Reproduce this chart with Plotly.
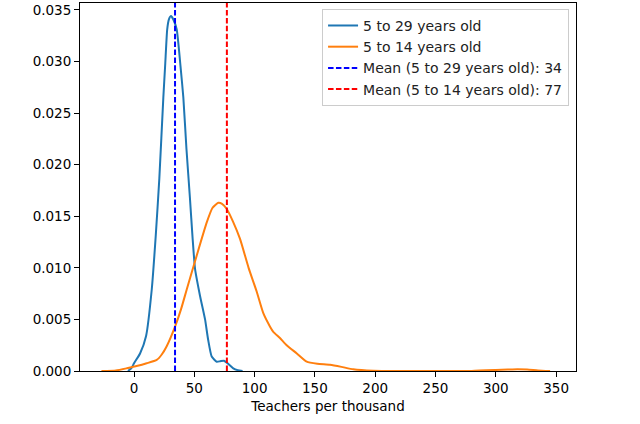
import plotly.graph_objects as go

# KDE curves
x_29 = [-5, -2, 0, 5, 10, 14.7, 18, 21, 24.3, 25.9, 27.5, 29, 30.7, 32.5, 35.4, 38.5, 40.9,
        43.5, 46.4, 48.5, 50.6, 54.7, 58.9, 61.5, 64.4, 68.6, 71.5, 74.6, 78, 82.3, 86, 90]
y_29 = [0.0, 0.0003, 0.00075, 0.0017, 0.0034, 0.0079, 0.0131, 0.0187, 0.0265, 0.0298,
        0.0331, 0.0341, 0.0344, 0.0341, 0.0331, 0.0296, 0.0265, 0.0215, 0.0167, 0.0130,
        0.0099, 0.0073, 0.0050, 0.0030, 0.0014, 0.0009, 0.00095, 0.0010, 0.0007, 0.00026,
        0.00008, 0.0]

x_14 = [-27, -15, -6, 3, 10.5, 18.8, 23, 27.1, 34, 39, 43.7, 52, 60.3, 65, 69.9, 73, 76.9,
        82, 87.9, 95, 101.7, 107.2, 112.8, 115.5, 121, 126.6, 135, 143.2, 152, 162.5, 172,
        181.8, 198.4, 220, 250, 280, 300, 310, 318, 326, 335, 345]
y_14 = [0.0, 0.00005, 0.00026, 0.0005, 0.00075, 0.00107, 0.0016, 0.0024, 0.0043, 0.0060,
        0.0079, 0.0112, 0.0144, 0.0158, 0.0163, 0.0162, 0.0157, 0.0145, 0.0128, 0.0100,
        0.0077, 0.0056, 0.0043, 0.0038, 0.0032, 0.0025, 0.0017, 0.0009, 0.0007, 0.0006,
        0.0004, 0.00017, 0.00003, 0.0, 0.0, 0.00001, 0.0001, 0.00015, 0.00018, 0.00015,
        0.00006, 0.0]

mean_29 = 34
mean_14 = 77

labels = ["5 to 29 years old", "5 to 14 years old",
          f"Mean (5 to 29 years old): {mean_29}", f"Mean (5 to 14 years old): {mean_14}"]

x_ticks = [0, 50, 100, 150, 200, 250, 300, 350]
y_ticks = [0.0, 0.005, 0.010, 0.015, 0.020, 0.025, 0.030, 0.035]

x_range = [-44.8, 366.5]
y_range = [0, 0.03567]

fig = go.Figure()
fig.add_trace(go.Scatter(x=x_29, y=y_29, mode="lines", name=labels[0],
                         line=dict(color="#1f77b4", width=2, shape="spline", smoothing=0.5)))
fig.add_trace(go.Scatter(x=x_14, y=y_14, mode="lines", name=labels[1],
                         line=dict(color="#ff7f0e", width=2, shape="spline", smoothing=0.5)))
fig.add_trace(go.Scatter(x=[mean_29, mean_29], y=y_range, mode="lines", name=labels[2],
                         line=dict(color="blue", width=2, dash="5.5px,2.4px")))
fig.add_trace(go.Scatter(x=[mean_14, mean_14], y=y_range, mode="lines", name=labels[3],
                         line=dict(color="red", width=2, dash="5.5px,2.4px")))

axis_common = dict(showline=True, linecolor="black", linewidth=1, mirror=True,
                   ticks="outside", ticklen=5, tickcolor="black", tickwidth=1,
                   showgrid=False, zeroline=False,
                   tickfont=dict(family="DejaVu Sans", size=13.5, color="black"))

fig.update_layout(
    width=640, height=424,
    margin=dict(l=80, r=64, t=3, b=53),
    paper_bgcolor="white", plot_bgcolor="white",
    font=dict(family="DejaVu Sans", size=13.5, color="black"),
    showlegend=True,
    legend=dict(x=0.986, y=0.984, xanchor="right", yanchor="top",
                bgcolor="rgba(255,255,255,0.8)", bordercolor="#cccccc", borderwidth=1,
                font=dict(family="DejaVu Sans", size=14, color="#222"),
                tracegroupgap=0),
    xaxis=dict(range=x_range, tickvals=x_ticks,
               title=dict(text="Teachers per thousand", standoff=6,
                          font=dict(family="DejaVu Sans", size=13.5, color="black")),
               **axis_common),
    yaxis=dict(range=y_range, tickvals=y_ticks, tickformat=".3f", **axis_common),
)

fig.write_html("out.html", config={"displayModeBar": False},
               post_script="document.body.style.margin='0';")
